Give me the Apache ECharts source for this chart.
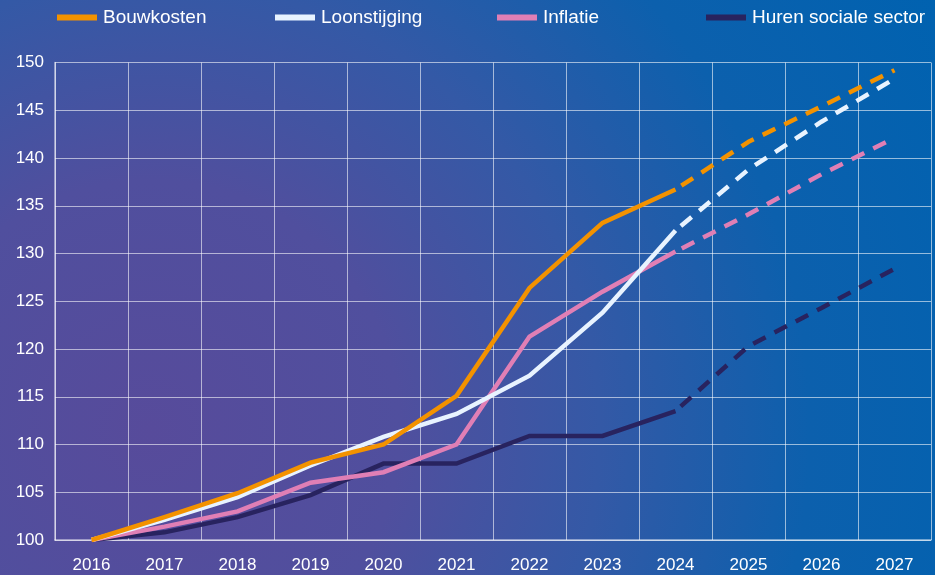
<!DOCTYPE html>
<html>
<head>
<meta charset="utf-8">
<script src="https://cdn.jsdelivr.net/npm/echarts@6/dist/echarts.min.js"></script>
<style>
html,body{margin:0;padding:0;}
#chart{width:935px;height:575px;
background: radial-gradient(circle at 150px 430px, #574b9b 0px, #504f9e 250px, #3459a6 450px, #0c60ad 660px, #0062b0 900px);}
</style>
</head>
<body>
<div id="chart"></div>
<script>
const years = ['2016','2017','2018','2019','2020','2021','2022','2023','2024','2025','2026','2027'];
const yTicks = [100,105,110,115,120,125,130,135,140,145,150];

const bouwkosten      = [100, 102.4, 104.9, 108.1, 110.0, 115.1, 126.4, 133.2, 136.7, null, null, null];
const bouwkostenProg  = [null, null, null, null, null, null, null, null, 136.7, 141.7, 145.4, 149.2];
const loon            = [100, 102.1, 104.5, 107.8, 110.8, 113.2, 117.2, 123.8, 132.4, null, null, null];
const loonProg        = [null, null, null, null, null, null, null, null, 132.4, 138.8, 143.8, 148.3];
const inflatie        = [100, 101.4, 103.0, 106.0, 107.1, 110.0, 121.3, 126.0, 130.2, null, null, null];
const inflatieProg    = [null, null, null, null, null, null, null, null, 130.2, 134.1, 138.3, 142.1];
const huren           = [100, 100.8, 102.4, 104.7, 108.0, 108.0, 110.9, 110.9, 113.5, null, null, null];
const hurenProg       = [null, null, null, null, null, null, null, null, 113.5, 120.3, 124.3, 128.4];

const names = ['Bouwkosten','Loonstijging','Inflatie','Huren sociale sector'];
const colors = ['#f39200','#e8f3ff','#e07fb5','#28235f'];
const solid = [bouwkosten, loon, inflatie, huren];
const prog = [bouwkostenProg, loonProg, inflatieProg, hurenProg];

const gridCol = 'rgba(255,255,255,0.58)';
const font = 'Liberation Sans, Arial, sans-serif';

const legendLefts = [57, 275, 497, 706];
const legends = names.map((n,i)=>({
  data:[n], left: legendLefts[i], top: 8, padding:0, icon:'rect', itemWidth:40, itemHeight:6, itemGap:0,
  textStyle:{color:'#ffffff', fontSize:19, fontFamily:font, padding:[0,0,0,1]},
  selectedMode:false
}));

const series = [];
names.forEach((n,i)=>{
  series.push({name:n, type:'line', data:solid[i], symbol:'none', connectNulls:false,
    lineStyle:{color:colors[i], width:4.5, join:'miter'}, itemStyle:{color:colors[i]}, z:10-i});
});
names.forEach((n,i)=>{
  series.push({name:n, type:'line', data:prog[i], symbol:'none', connectNulls:false,
    lineStyle:{color:colors[i], width:4.5, type:[14,10], dashOffset:17}, itemStyle:{color:colors[i]}, z:10-i});
});

const chart = echarts.init(document.getElementById('chart'), null, {renderer:'canvas'});
chart.setOption({
  backgroundColor:'transparent',
  animation:false,
  legend: legends,
  grid:{left:55, right:4, top:62.5, bottom:35, containLabel:false},
  xAxis:{type:'category', data:years, boundaryGap:true,
    axisLine:{show:true, lineStyle:{color:gridCol, width:1.5}},
    axisTick:{show:false},
    axisLabel:{color:'#ffffff', fontSize:17, fontFamily:font, margin:17},
    splitLine:{show:true, lineStyle:{color:gridCol, width:1}}
  },
  yAxis:{type:'value', min:100, max:150, interval:5,
    axisLine:{show:true, lineStyle:{color:gridCol, width:1.5}},
    axisTick:{show:false},
    axisLabel:{color:'#ffffff', fontSize:17, fontFamily:font, margin:11},
    splitLine:{show:true, lineStyle:{color:gridCol, width:1}}
  },
  series: series
});
</script>
</body>
</html>
